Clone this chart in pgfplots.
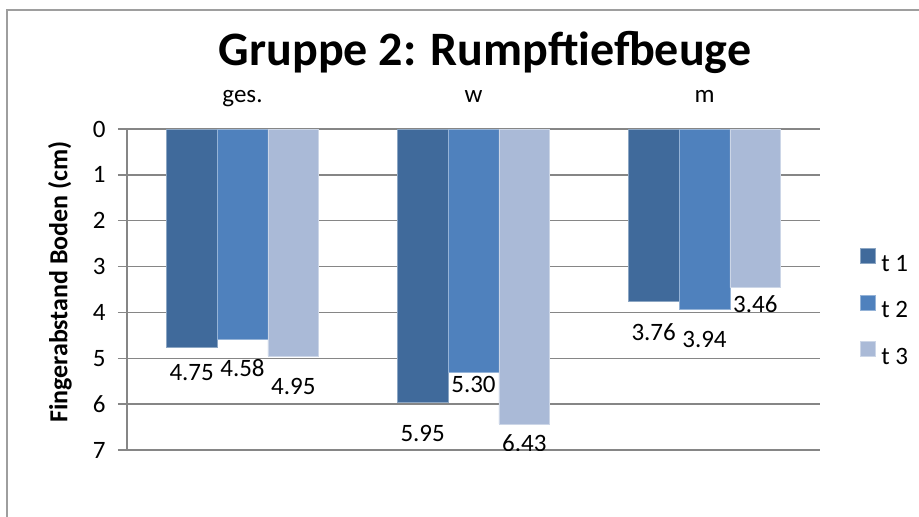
\documentclass[border=0pt]{standalone}
\usepackage{pgfplots}
\pgfplotsset{compat=1.18}
\usepackage{fontspec}
\setmainfont{Carlito}
\definecolor{tA}{RGB}{64,106,155}
\definecolor{tB}{RGB}{79,129,189}
\definecolor{tC}{RGB}{170,186,215}
\definecolor{gridc}{RGB}{134,134,134}
\begin{document}
\begin{tikzpicture}
\useasboundingbox (0,0) rectangle (919pt,517pt);
\begin{scope}
\clip (0,0) rectangle (919pt,517pt);
\draw[gridc!80, line width=1.5pt] (7pt,-20pt) -- (7pt,507pt) -- (940pt,507pt);
\end{scope}
\node[font=\fontsize{48pt}{50pt}\selectfont\bfseries, anchor=base, inner sep=0pt] at (485pt,451pt) {Gruppe 2: Rumpftiefbeuge};
\node[rotate=90, font=\fontsize{26pt}{28pt}\selectfont\bfseries, inner sep=0pt] at (60pt,235pt) {Fingerabstand Boden (cm)};
\begin{axis}[
  at={(127pt,67pt)}, anchor=south west, scale only axis,
  width=693pt, height=321pt,
  xmin=-0.5, xmax=2.5, ymin=0, ymax=7, y dir=reverse,
  ybar, bar width=0.22,
  xtick={0,1,2}, xticklabels={ges.,w,m}, xtick style={draw=none},
  xticklabel pos=upper,
  xticklabel style={yshift=9pt, text height=14pt, text depth=5pt},
  ytick={0,1,2,3,4,5,6,7},
  ymajorgrids, grid style={gridc, line width=1.5pt},
  separate axis lines, axis y line*=left,
  x axis line style={draw=none},
  y axis line style={gridc, line width=1.5pt, -},
  tick align=outside, major tick length=9pt,
  ytick style={gridc, line width=1.5pt},
  tick label style={font=\fontsize{25pt}{28pt}\selectfont},
  yticklabel style={xshift=-9pt},
  /pgf/number format/assume math mode=true,
  legend style={draw=none, fill=none, at={(1.053,0.635)}, anchor=north west,
    nodes={inner sep=0pt, font=\fontsize{25pt}{28pt}\selectfont, text height=16pt, text depth=0pt},
    row sep=23pt, column sep=6pt},
  legend cell align=left,
  legend image code/.code={\fill[#1] (0pt,0pt) rectangle (15pt,15pt);},
]
\addplot[fill=tA, draw=tA!60!white, line width=0.5pt, bar shift=-0.22] coordinates {(0,4.75) (1,5.95) (2,3.76)};
\addplot[fill=tB, draw=tB!60!white, line width=0.5pt, bar shift=0] coordinates {(0,4.58) (1,5.30) (2,3.94)};
\addplot[fill=tC, draw=tC!60!white, line width=0.5pt, bar shift=0.22] coordinates {(0,4.95) (1,6.43) (2,3.46)};
\legend{t 1, t 2, t 3}
\begin{scope}[every node/.style={font=\fontsize{25pt}{28pt}\selectfont, inner sep=0pt}]
\node at (axis cs:-0.22,5.32) {4.75};
\node at (axis cs:0,5.21) {4.58};
\node at (axis cs:0.22,5.62) {4.95};
\node at (axis cs:0.78,6.63) {5.95};
\node at (axis cs:1,5.58) {5.30};
\node at (axis cs:1.22,6.84) {6.43};
\node at (axis cs:1.78,4.42) {3.76};
\node at (axis cs:2,4.60) {3.94};
\node at (axis cs:2.22,3.81) {3.46};
\end{scope}
\end{axis}
\end{tikzpicture}
\end{document}
